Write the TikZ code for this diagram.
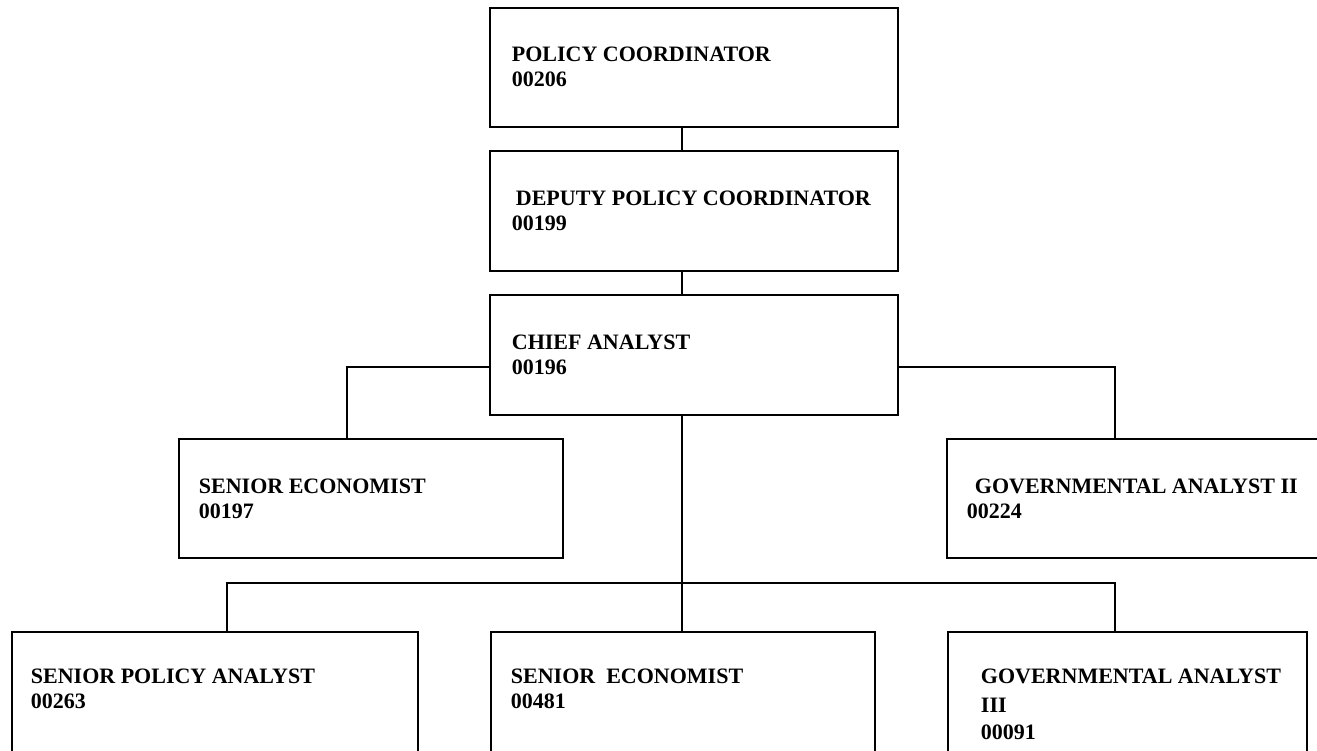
\documentclass[tikz,border=0pt]{standalone}
\usepackage{fontspec}
\setmainfont{Liberation Serif}
\usetikzlibrary{calc,fit}
\begin{document}
\begin{tikzpicture}[x=0.75pt,y=-0.75pt,
  box/.style={draw=black, line width=2pt, inner sep=0pt, rectangle},
  conn/.style={draw=black, line width=1.1pt},
  txt/.style={font=\bfseries\fontsize{16.5}{20}\selectfont, inner sep=0pt, anchor=base west}]
\useasboundingbox (0,0) rectangle (1317,750);
\clip (0,0) rectangle (1317,750);

% boxes
\node[box, fit={(490,8) (898,127)}] (b1) {};
\node[box, fit={(490,151) (898,271)}] (b2) {};
\node[box, fit={(490,295) (898,415)}] (b3) {};
\node[box, fit={(179,439) (563,558)}] (b4) {};
\node[box, fit={(947,439) (1345,558)}] (b5) {};
\node[box, fit={(12,632) (418,775)}] (b6) {};
\node[box, fit={(491,632) (875,775)}] (b7) {};
\node[box, fit={(948,632) (1307,775)}] (b8) {};

% texts
\node[txt] (t1a) at ($(b1.north west)+(23,55)$) {POLICY COORDINATOR};
\node[txt] (t1b) at ($(b1.north west)+(23,80)$) {00206};
\node[txt] (t2a) at ($(b2.north west)+(27,56)$) {DEPUTY POLICY COORDINATOR};
\node[txt] (t2b) at ($(b2.north west)+(23,81)$) {00199};
\node[txt] (t3a) at ($(b3.north west)+(23,56)$) {CHIEF ANALYST};
\node[txt] (t3b) at ($(b3.north west)+(23,81)$) {00196};
\node[txt] (t4a) at ($(b4.north west)+(21,56)$) {SENIOR ECONOMIST};
\node[txt] (t4b) at ($(b4.north west)+(21,81)$) {00197};
\node[txt] (t5a) at ($(b5.north west)+(29,56)$) {GOVERNMENTAL ANALYST II};
\node[txt] (t5b) at ($(b5.north west)+(21,81)$) {00224};
\node[txt] (t6a) at ($(b6.north west)+(20,53)$) {SENIOR POLICY ANALYST};
\node[txt] (t6b) at ($(b6.north west)+(20,78)$) {00263};
\node[txt] (t7a) at ($(b7.north west)+(21,53)$) {SENIOR\ \ ECONOMIST};
\node[txt] (t7b) at ($(b7.north west)+(21,78)$) {00481};
\node[txt] (t8a) at ($(b8.north west)+(34,53)$) {GOVERNMENTAL ANALYST};
\node[txt] (t8b) at ($(b8.north west)+(34,82)$) {III};
\node[txt] (t8c) at ($(b8.north west)+(34,109)$) {00091};

% connector guide coordinates
\coordinate (spine) at (682,0);
\coordinate (side) at (0,367);
\coordinate (lx) at (347,0);
\coordinate (rx) at (1115,0);
\coordinate (bus) at (0,583);
\coordinate (blx) at (227,0);

% connectors
\draw[conn] (b1.south -| spine) -- (b2.north -| spine);
\draw[conn] (b2.south -| spine) -- (b3.north -| spine);
\draw[conn] (b3.west |- side) -| (b4.north -| lx);
\draw[conn] (b3.east |- side) -| (b5.north -| rx);
\draw[conn] (b3.south -| spine) -- (bus -| spine);
\draw[conn] (b6.north -| blx) |- (bus -| rx) -- (b8.north -| rx);
\draw[conn] (bus -| spine) -- (b7.north -| spine);
\end{tikzpicture}
\end{document}
